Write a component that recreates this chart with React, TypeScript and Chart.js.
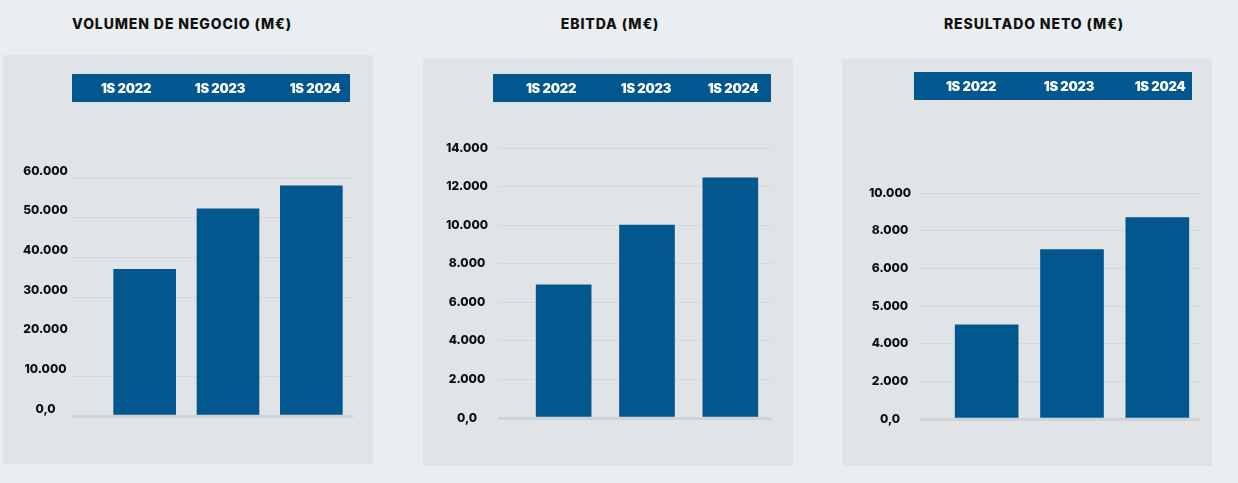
import React, { useEffect, useRef } from 'react';
import { Chart, registerables, LinearScale } from 'chart.js';

Chart.register(...registerables);

// ---------- DATA ----------
const categories = ['1S 2022', '1S 2023', '1S 2024'];

const volumenTitle = 'VOLUMEN DE NEGOCIO (M€)';
const volumenValues = [37000, 52200, 58000];
const volumenTicks = [0, 10000, 20000, 30000, 40000, 50000, 60000];
const volumenTickLabels = ['0,0', '10.000', '20.000', '30.000', '40.000', '50.000', '60.000'];
const volumenHiddenGrid = [20000];

const ebitdaTitle = 'EBITDA (M€)';
const ebitdaValues = [6900, 10000, 12450];
const ebitdaTicks = [0, 2000, 4000, 6000, 8000, 10000, 12000, 14000];
const ebitdaTickLabels = ['0,0', '2.000', '4.000', '6.000', '8.000', '10.000', '12.000', '14.000'];

const netoTitle = 'RESULTADO NETO (M€)';
const netoValues = [4500, 7000, 8700];
const netoTicks = [0, 2000, 4000, 5000, 6000, 8000, 10000];
const netoTickLabels = ['0,0', '2.000', '4.000', '5.000', '6.000', '8.000', '10.000'];

// ---------- STYLE ----------
const BG = '#EBEEF1';
const PANEL = '#E1E4E7';
const BAR = '#03578F';
const GRID = '#D6D9DC';
const BASE = '#D0D3D6';
const FONT = 'Inter, "Open Sans", sans-serif';

// Scale whose listed ticks are evenly spaced (values interpolated between them)
class StepTickScale extends LinearScale {
  static id = 'steptick';
  static defaults = LinearScale.defaults;
  _bps(): number[] {
    return ((this as any).ticks || []).map((t: any) => t.value);
  }
  buildTicks() {
    const list: number[] = ((this.options as any).tickValues as number[]) || [];
    return list.map((v) => ({ value: v }));
  }
  getPixelForValue(value: number) {
    const bps = this._bps();
    const n = bps.length - 1;
    if (n < 1) return super.getPixelForValue(value);
    let pos = 0;
    if (value <= bps[0]) pos = 0;
    else if (value >= bps[n]) pos = n + (value - bps[n]) / (bps[n] - bps[n - 1]);
    else {
      for (let i = 0; i < n; i++) {
        if (value <= bps[i + 1]) {
          pos = i + (value - bps[i]) / (bps[i + 1] - bps[i]);
          break;
        }
      }
    }
    return this.getPixelForDecimal(pos / n);
  }
  getValueForPixel(pixel: number) {
    const bps = this._bps();
    const n = bps.length - 1;
    const pos = this.getDecimalForPixel(pixel) * n;
    const i = Math.max(0, Math.min(n - 1, Math.floor(pos)));
    return bps[i] + (pos - i) * (bps[i + 1] - bps[i]);
  }
}
Chart.register(StepTickScale);

type PanelCfg = {
  title: string;
  values: number[];
  ticks: number[];
  tickLabels: string[];
  hiddenGrid: number[];
  scaleType: string;
  max: number;
  panel: { left: number; top: number; width: number; height: number };
  canvas: { left: number; top: number; width: number; height: number };
  pad: { top: number; right: number; bottom: number };
  axisWidth: number;
  tickLength: number;
  tickPad: number;
  labelOffset: number;
  barThickness: number;
  header: { left: number; top: number; width: number; height: number };
  headerCenters: number[];
  titleCenter: number;
};

const panels: PanelCfg[] = [
  {
    title: volumenTitle,
    values: volumenValues,
    ticks: volumenTicks,
    tickLabels: volumenTickLabels,
    hiddenGrid: volumenHiddenGrid,
    scaleType: 'linear',
    max: 60000,
    panel: { left: 3, top: 55, width: 370, height: 409 },
    canvas: { left: 3, top: 55, width: 370, height: 409 },
    pad: { top: 123, right: 20, bottom: 48 },
    axisWidth: 100,
    tickLength: 31,
    tickPad: 4,
    labelOffset: -7,
    barThickness: 62,
    header: { left: 72, top: 74, width: 278, height: 28 },
    headerCenters: [54, 148, 243],
    titleCenter: 182,
  },
  {
    title: ebitdaTitle,
    values: ebitdaValues,
    ticks: ebitdaTicks,
    tickLabels: ebitdaTickLabels,
    hiddenGrid: [],
    scaleType: 'linear',
    max: 14000,
    panel: { left: 423, top: 59, width: 370, height: 407 },
    canvas: { left: 423, top: 59, width: 370, height: 407 },
    pad: { top: 89, right: 21, bottom: 48 },
    axisWidth: 99,
    tickLength: 24,
    tickPad: 10,
    labelOffset: 0,
    barThickness: 55,
    header: { left: 493, top: 74, width: 278, height: 28 },
    headerCenters: [58, 153, 240],
    titleCenter: 610,
  },
  {
    title: netoTitle,
    values: netoValues,
    ticks: netoTicks,
    tickLabels: netoTickLabels,
    hiddenGrid: [],
    scaleType: 'steptick',
    max: 10000,
    panel: { left: 842, top: 59, width: 370, height: 407 },
    canvas: { left: 842, top: 59, width: 370, height: 407 },
    pad: { top: 134, right: 12, bottom: 47 },
    axisWidth: 102,
    tickLength: 24,
    tickPad: 9,
    labelOffset: 0,
    barThickness: 63,
    header: { left: 914, top: 72, width: 278, height: 28 },
    headerCenters: [57, 155, 246],
    titleCenter: 1034,
  },
];

function BarPanel({ cfg }: { cfg: PanelCfg }) {
  const ref = useRef<HTMLCanvasElement>(null);
  useEffect(() => {
    if (!ref.current) return;
    const chart = new Chart(ref.current, {
      type: 'bar',
      data: {
        labels: categories,
        datasets: [
          {
            data: cfg.values,
            backgroundColor: BAR,
            borderWidth: 0,
            barThickness: cfg.barThickness,
          },
        ],
      },
      options: {
        animation: false,
        responsive: false,
        events: [],
        layout: { padding: { left: 0, top: cfg.pad.top, right: cfg.pad.right, bottom: cfg.pad.bottom } },
        plugins: { legend: { display: false }, tooltip: { enabled: false } },
        scales: {
          x: { display: false },
          y: {
            type: cfg.scaleType as any,
            min: 0,
            max: cfg.max,
            tickValues: cfg.ticks,
            afterBuildTicks: (s: any) => {
              s.ticks = cfg.ticks.map((v) => ({ value: v }));
            },
            afterFit: (s: any) => {
              s.width = cfg.axisWidth;
            },
            border: { display: false },
            grid: {
              drawTicks: true,
              tickLength: cfg.tickLength,
              color: (c: any) => {
                const v = c.tick ? c.tick.value : null;
                if (v === 0) return BASE;
                if (cfg.hiddenGrid.includes(v)) return 'rgba(0,0,0,0)';
                return GRID;
              },
              lineWidth: (c: any) => (c.tick && c.tick.value === 0 ? 3 : 1),
            },
            ticks: {
              autoSkip: false,
              crossAlign: 'center',
              padding: cfg.tickPad,
              labelOffset: cfg.labelOffset,
              color: '#0D0D0D',
              font: { family: FONT, weight: '800', size: 12 },
              callback: (_v: any, i: number) => cfg.tickLabels[i],
            },
          } as any,
        },
      },
    });
    return () => chart.destroy();
  }, [cfg]);

  return (
    <>
      <div
        style={{
          position: 'absolute',
          left: cfg.panel.left,
          top: cfg.panel.top,
          width: cfg.panel.width,
          height: cfg.panel.height,
          background: PANEL,
        }}
      />
      <div
        style={{
          position: 'absolute',
          left: cfg.titleCenter,
          top: 15,
          transform: 'translateX(-50%)',
          whiteSpace: 'nowrap',
          fontFamily: FONT,
          fontWeight: 800,
          fontSize: 14,
          lineHeight: '18px',
          color: '#111111',
          letterSpacing: 0.9,
        }}
      >
        {cfg.title}
      </div>
      <canvas
        ref={ref}
        width={cfg.canvas.width}
        height={cfg.canvas.height}
        style={{
          position: 'absolute',
          left: cfg.canvas.left,
          top: cfg.canvas.top,
          width: cfg.canvas.width,
          height: cfg.canvas.height,
        }}
      />
      <div
        style={{
          position: 'absolute',
          left: cfg.header.left,
          top: cfg.header.top,
          width: cfg.header.width,
          height: cfg.header.height,
          background: BAR,
        }}
      >
        {categories.map((c, i) => (
          <span
            key={c}
            style={{
              position: 'absolute',
              left: cfg.headerCenters[i],
              top: 0,
              transform: 'translateX(-50%)',
              whiteSpace: 'nowrap',
              fontFamily: FONT,
              fontWeight: 900,
              fontSize: 13,
              lineHeight: '29px',
              color: '#FFFFFF',
              letterSpacing: -0.2,
            }}
          >
            {c}
          </span>
        ))}
      </div>
    </>
  );
}

export default function App() {
  return (
    <div
      style={{
        position: 'fixed',
        left: 0,
        top: 0,
        width: 1238,
        height: 483,
        background: BG,
        overflow: 'hidden',
      }}
    >
      {panels.map((p) => (
        <BarPanel key={p.title} cfg={p} />
      ))}
    </div>
  );
}
